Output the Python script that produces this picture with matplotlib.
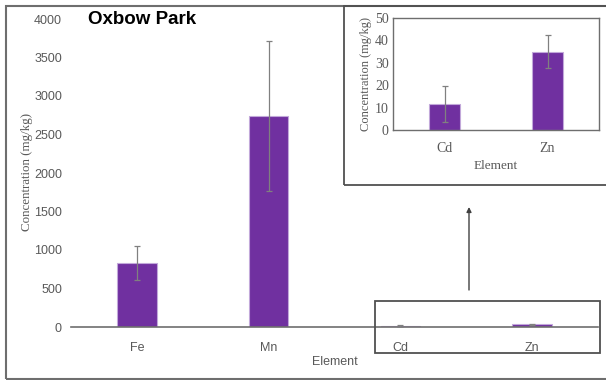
import numpy as np
import matplotlib
matplotlib.use('Agg')
import matplotlib.pyplot as plt
from matplotlib.patches import Rectangle

# ========== 数据 ==========
elements = ['Fe', 'Mn', 'Cd', 'Zn']
means = [830, 2740, 11.5, 35]
errs = [220, 970, 8, 7.5]

inset_elements = ['Cd', 'Zn']
inset_means = [11.5, 35]
inset_errs = [8, 7.5]

main_yticks = [0, 500, 1000, 1500, 2000, 2500, 3000, 3500, 4000]
inset_yticks = [0, 10, 20, 30, 40, 50]

purple = '#7030A0'
edge = '#C2A8DA'
grey_txt = '#595959'
grey_line = '#808080'

W, H = 606, 380
fig = plt.figure(figsize=(W / 100, H / 100), dpi=100)

def fx(px): return px / W
def fy(py): return 1 - py / H

# ========== 主图 ==========
ax = fig.add_axes([fx(71), fy(327), fx(598) - fx(71), fy(19) - fy(327)])
ax.set_facecolor('none')
x = np.arange(len(elements))
ax.bar(x, means, width=0.30, color=purple, edgecolor=edge, linewidth=0.8, zorder=2)
ax.errorbar(x, means, yerr=errs, fmt='none', ecolor=grey_line, elinewidth=0.9,
            capsize=2.5, capthick=0.9, zorder=3)
ax.set_xlim(-0.5, 3.5)
ax.set_ylim(0, 4000)
ax.set_yticks(main_yticks)
ax.set_xticks(x)
ax.set_xticklabels(elements)
for s in ['top', 'right', 'left']:
    ax.spines[s].set_visible(False)
ax.spines['bottom'].set_color('#6e6e6e')
ax.spines['bottom'].set_linewidth(1.2)
ax.tick_params(axis='both', length=0, labelsize=9, labelcolor=grey_txt,
               labelfontfamily='Liberation Sans')
ax.tick_params(axis='y', pad=6.5)
ax.tick_params(axis='x', pad=11)
ax.set_xlabel('Element', fontsize=9, color=grey_txt, family='Liberation Sans', labelpad=1)
ax.set_ylabel('Concentration (mg/kg)', fontsize=9.4, color=grey_txt,
              family='Liberation Serif', labelpad=1)
ax.yaxis.set_label_coords(-0.072, 0.505)
ax.text(fx(88), fy(20), 'Oxbow Park', transform=fig.transFigure, fontsize=13.5,
        fontweight='bold', family='Liberation Sans', va='center', ha='left')

# ========== 插图 (Cd, Zn) ==========
ins = fig.add_axes([fx(393), fy(130), fx(599) - fx(393), fy(18) - fy(130)], zorder=5)
xi = np.arange(len(inset_elements))
ins.bar(xi, inset_means, width=0.31, color=purple, edgecolor=edge, linewidth=0.8, zorder=2)
ins.errorbar(xi, inset_means, yerr=inset_errs, fmt='none', ecolor=grey_line,
             elinewidth=0.9, capsize=2.5, capthick=0.9, zorder=3)
ins.set_xlim(-0.5, 1.5)
ins.set_ylim(0, 50)
ins.set_yticks(inset_yticks)
ins.set_xticks(xi)
ins.set_xticklabels(inset_elements)
for s in ins.spines.values():
    s.set_color('#6e6e6e')
    s.set_linewidth(1.0)
ins.tick_params(axis='both', length=0, labelsize=10, labelcolor=grey_txt,
                labelfontfamily='Liberation Serif', pad=3)
ins.tick_params(axis='x', pad=9)
ins.set_xlabel('Element', fontsize=9.5, color=grey_txt, family='Liberation Serif', labelpad=3)
ins.set_ylabel('Concentration (mg/kg)', fontsize=9, color=grey_txt,
               family='Liberation Serif', labelpad=2)

# ========== 边框、放大框、箭头 ==========
fig.patches.append(Rectangle((fx(6), fy(379)), fx(640) - fx(6), fy(6) - fy(379),
                             transform=fig.transFigure, fill=False,
                             edgecolor='#6e6e6e', linewidth=1.5))
fig.patches.append(Rectangle((fx(344), fy(185)), fx(640) - fx(344), fy(6) - fy(185),
                             transform=fig.transFigure, fill=False,
                             edgecolor='#505050', linewidth=1.3))
fig.patches.append(Rectangle((fx(375), fy(353)), fx(600) - fx(375), fy(301) - fy(353),
                             transform=fig.transFigure, fill=False,
                             edgecolor='#505050', linewidth=1.3))
ax.annotate('', xy=(fx(469), fy(207)), xytext=(fx(469), fy(290)),
            xycoords='figure fraction', textcoords='figure fraction',
            arrowprops=dict(arrowstyle='-|>', color='#404040', lw=1.0,
                            mutation_scale=7, shrinkA=0, shrinkB=0))

fig.savefig('out.png', dpi=100)
